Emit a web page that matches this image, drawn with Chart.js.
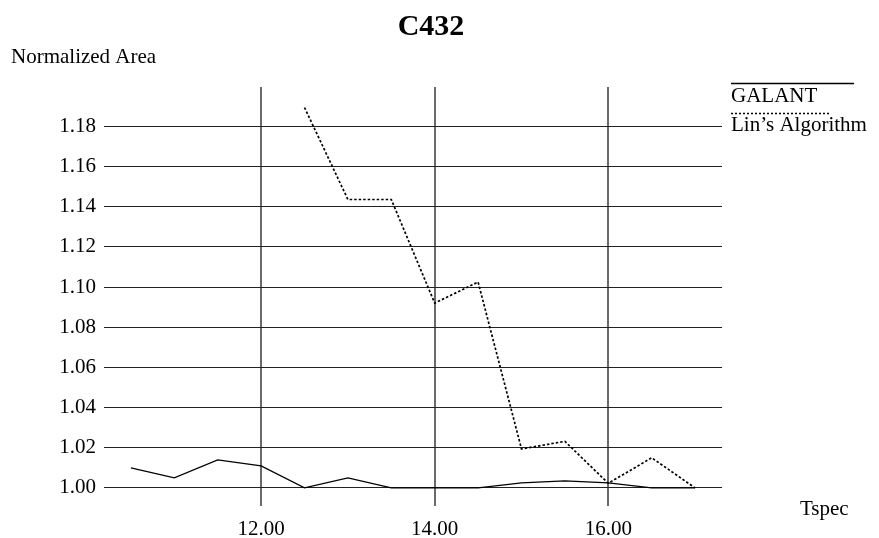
<!DOCTYPE html>
<html>
<head>
<meta charset="utf-8">
<script src="https://cdn.jsdelivr.net/npm/chart.js@4"></script>
<style>
  html, body { margin: 0; padding: 0; background: #fff; }
  #wrap { width: 879px; height: 538px; position: relative; }
</style>
</head>
<body>
<div id="wrap"><canvas id="chart" width="879" height="538"></canvas></div>
<script>
// values
var galantX = [10.5, 11, 11.5, 12, 12.5, 13, 13.5, 14, 14.5, 15, 15.5, 16, 16.5, 17];
var galantY = [1.010, 1.005, 1.014, 1.011, 1.000, 1.005, 1.000, 1.000, 1.000, 1.0025, 1.0035, 1.0025, 1.000, 1.000];

var linX = [12.5, 13, 13.5, 14, 14.5, 15, 15.5, 16, 16.5, 17];
var linY = [1.1894, 1.1436, 1.1436, 1.0920, 1.1025, 1.0194, 1.0232, 1.0023, 1.0150, 1.000];

var xTicks = [12, 14, 16];
var yTicks = [1.00, 1.02, 1.04, 1.06, 1.08, 1.10, 1.12, 1.14, 1.16, 1.18];

var seriesNames = ["GALANT", "Lin\u2019s Algorithm"];

var SERIF = "'Liberation Serif', 'Times New Roman', serif";

/* zip x and y arrays into point objects */
var toPoints = function (xs, ys) {
    return xs.map(function (x, i) { return {x: x, y: ys[i]}; });
};

/* titles and the little legend in the right margin */
var labelsPlugin = {
    id: "labels",
    afterDraw: function (chart) {
        var ctx = chart.ctx;
        ctx.save();
        ctx.fillStyle = "#000";
        ctx.textBaseline = "alphabetic";

        ctx.font = "bold 30px " + SERIF;
        ctx.textAlign = "center";
        ctx.fillText("C432", 431, 35);

        ctx.font = "21px " + SERIF;
        ctx.textAlign = "left";
        ctx.fillText("Normalized Area", 11, 63);
        ctx.fillText("Tspec", 800, 515);

        // legend entries: line above the name
        ctx.strokeStyle = "#000";
        ctx.lineWidth = 1.3;
        ctx.beginPath();
        ctx.moveTo(731, 83.5);
        ctx.lineTo(854, 83.5);
        ctx.stroke();
        ctx.fillText(seriesNames[0], 731, 102);

        ctx.lineWidth = 1.5;
        ctx.setLineDash([2, 2]);
        ctx.beginPath();
        ctx.moveTo(731, 113.5);
        ctx.lineTo(830, 113.5);
        ctx.stroke();
        ctx.setLineDash([]);
        ctx.fillText(seriesNames[1], 731, 131);

        ctx.restore();
    }
};

new Chart(document.getElementById("chart"), {
    type: "line",
    data: {
        datasets: [{
            label: seriesNames[0],
            data: toPoints(galantX, galantY),
            borderColor: "#000",
            borderWidth: 1.3,
            pointRadius: 0,
            tension: 0,
            fill: false
        }, {
            label: seriesNames[1],
            data: toPoints(linX, linY),
            borderColor: "#000",
            borderWidth: 1.7,
            borderDash: [2.5, 2],
            pointRadius: 0,
            tension: 0,
            fill: false
        }]
    },
    options: {
        responsive: false,
        animation: false,
        layout: {padding: {top: 87, right: 157, left: 0, bottom: 0}},
        plugins: {
            legend: {display: false},
            title: {display: false},
            tooltip: {enabled: false}
        },
        scales: {
            x: {
                type: "linear",
                min: 10.19,
                max: 17.31,
                afterBuildTicks: function (scale) {
                    scale.ticks = xTicks.map(function (v) { return {value: v}; });
                },
                afterFit: function (scale) { scale.height = 32; },
                border: {display: false},
                grid: {color: "#6a6a6a", lineWidth: 2, drawTicks: false},
                ticks: {
                    color: "#000",
                    padding: 11,
                    font: {family: SERIF, size: 21},
                    maxRotation: 0,
                    callback: function (v) { return Number(v).toFixed(2); }
                }
            },
            y: {
                type: "linear",
                min: 0.991,
                max: 1.1996,
                afterBuildTicks: function (scale) {
                    scale.ticks = yTicks.map(function (v) { return {value: v}; });
                },
                afterFit: function (scale) { scale.width = 104; },
                border: {display: false},
                grid: {color: "#222", lineWidth: 1, drawTicks: false},
                ticks: {
                    color: "#000",
                    padding: 8,
                    font: {family: SERIF, size: 21},
                    callback: function (v) { return Number(v).toFixed(2); }
                }
            }
        }
    },
    plugins: [labelsPlugin]
});
</script>
</body>
</html>
